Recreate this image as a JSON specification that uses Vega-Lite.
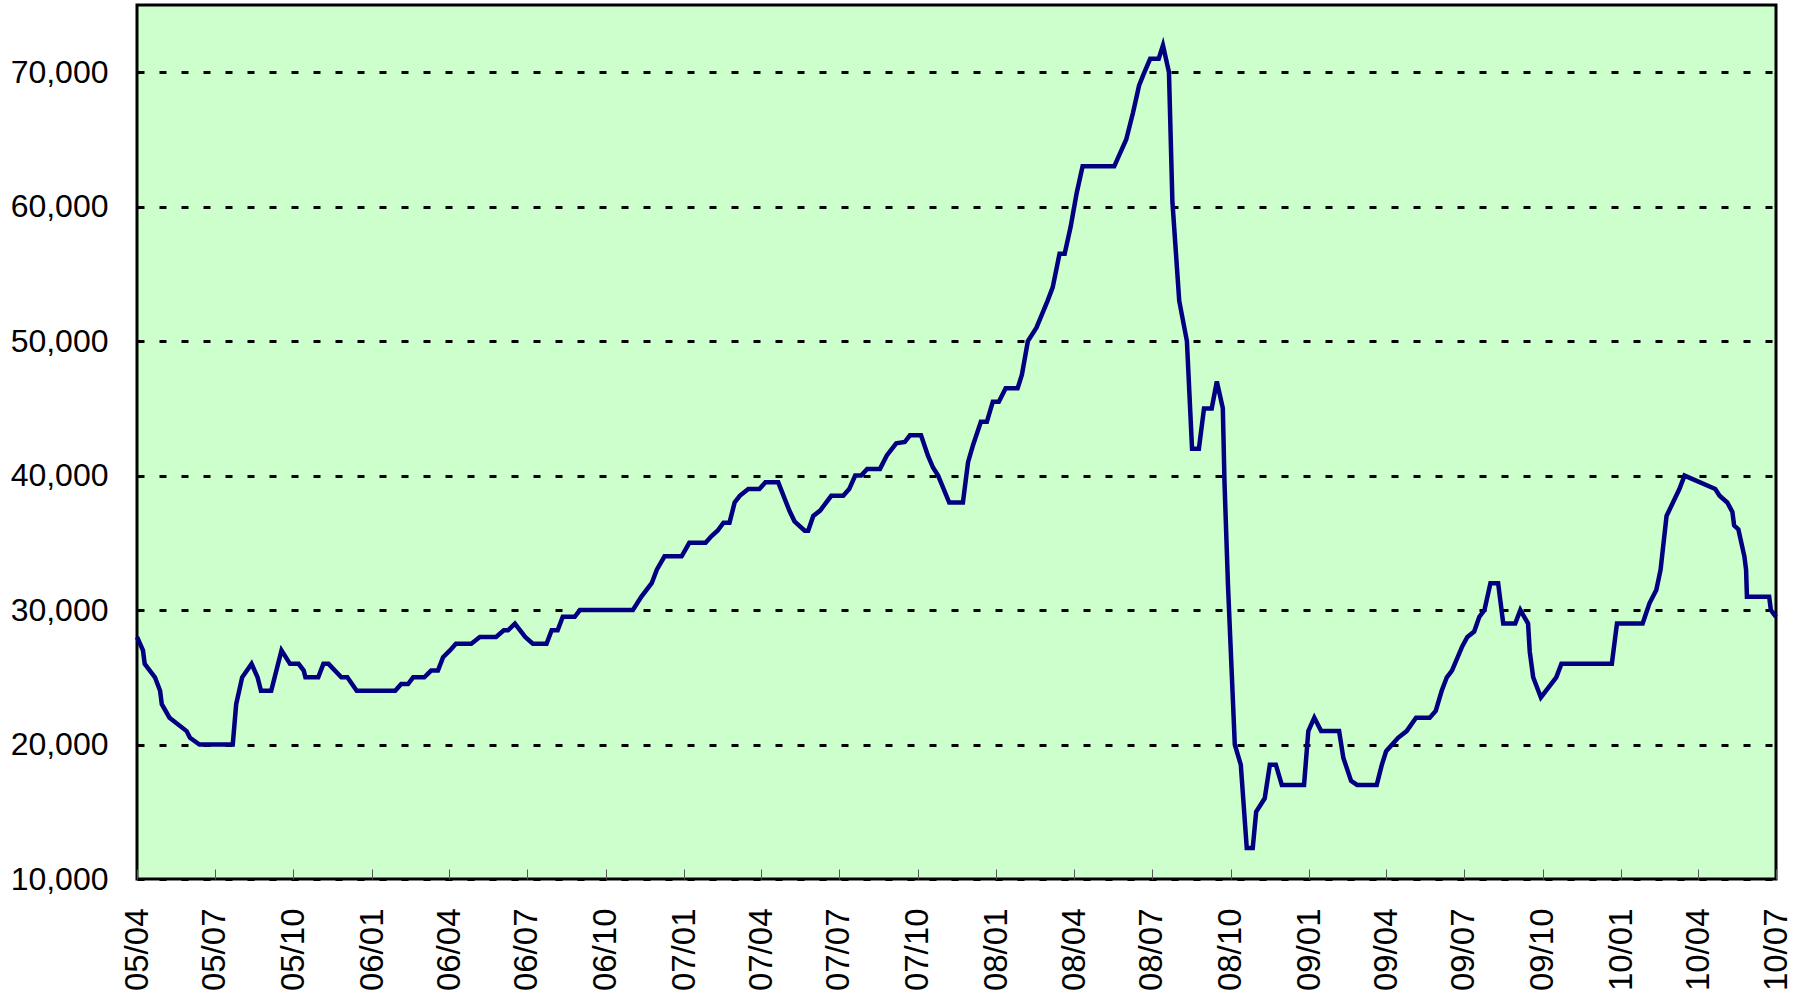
{
  "$schema": "https://vega.github.io/schema/vega-lite/v6.json",
  "autosize": {"type": "none"},
  "padding": {"left": 137, "top": 5, "right": 19, "bottom": 121},
  "width": 1639,
  "height": 874,
  "background": "white",
  "config": {
    "view": {"fill": "#CCFFCC", "stroke": "black", "strokeWidth": 3},
    "font": "Liberation Sans"
  },
  "data": {
    "values": [
      {"date": "2005-04-01", "price": 28000},
      {"date": "2005-04-08", "price": 27000},
      {"date": "2005-04-10", "price": 26000},
      {"date": "2005-04-22", "price": 25000},
      {"date": "2005-04-28", "price": 24000},
      {"date": "2005-04-30", "price": 23000},
      {"date": "2005-05-09", "price": 22000},
      {"date": "2005-05-29", "price": 21000},
      {"date": "2005-06-02", "price": 20500},
      {"date": "2005-06-13", "price": 20000},
      {"date": "2005-07-22", "price": 20000},
      {"date": "2005-07-26", "price": 23000},
      {"date": "2005-08-02", "price": 25000},
      {"date": "2005-08-13", "price": 26000},
      {"date": "2005-08-20", "price": 25000},
      {"date": "2005-08-24", "price": 24000},
      {"date": "2005-09-05", "price": 24000},
      {"date": "2005-09-17", "price": 27000},
      {"date": "2005-09-27", "price": 26000},
      {"date": "2005-10-07", "price": 26000},
      {"date": "2005-10-13", "price": 25500},
      {"date": "2005-10-15", "price": 25000},
      {"date": "2005-10-30", "price": 25000},
      {"date": "2005-11-05", "price": 26000},
      {"date": "2005-11-11", "price": 26000},
      {"date": "2005-11-26", "price": 25000},
      {"date": "2005-12-03", "price": 25000},
      {"date": "2005-12-14", "price": 24000},
      {"date": "2006-01-28", "price": 24000},
      {"date": "2006-02-04", "price": 24500},
      {"date": "2006-02-12", "price": 24500},
      {"date": "2006-02-18", "price": 25000},
      {"date": "2006-03-03", "price": 25000},
      {"date": "2006-03-11", "price": 25500},
      {"date": "2006-03-19", "price": 25500},
      {"date": "2006-03-25", "price": 26500},
      {"date": "2006-04-02", "price": 27000},
      {"date": "2006-04-09", "price": 27500},
      {"date": "2006-04-27", "price": 27500},
      {"date": "2006-05-07", "price": 28000},
      {"date": "2006-05-26", "price": 28000},
      {"date": "2006-06-04", "price": 28500},
      {"date": "2006-06-09", "price": 28500},
      {"date": "2006-06-17", "price": 29000},
      {"date": "2006-06-29", "price": 28000},
      {"date": "2006-07-08", "price": 27500},
      {"date": "2006-07-24", "price": 27500},
      {"date": "2006-07-30", "price": 28500},
      {"date": "2006-08-06", "price": 28500},
      {"date": "2006-08-12", "price": 29500},
      {"date": "2006-08-26", "price": 29500},
      {"date": "2006-09-01", "price": 30000},
      {"date": "2006-11-02", "price": 30000},
      {"date": "2006-11-12", "price": 31000},
      {"date": "2006-11-24", "price": 32000},
      {"date": "2006-11-30", "price": 33000},
      {"date": "2006-12-09", "price": 34000},
      {"date": "2006-12-29", "price": 34000},
      {"date": "2007-01-07", "price": 35000},
      {"date": "2007-01-26", "price": 35000},
      {"date": "2007-02-02", "price": 35500},
      {"date": "2007-02-09", "price": 35900},
      {"date": "2007-02-16", "price": 36500},
      {"date": "2007-02-23", "price": 36500},
      {"date": "2007-03-01", "price": 38000},
      {"date": "2007-03-07", "price": 38500},
      {"date": "2007-03-17", "price": 39000},
      {"date": "2007-03-30", "price": 39000},
      {"date": "2007-04-06", "price": 39500},
      {"date": "2007-04-21", "price": 39500},
      {"date": "2007-05-04", "price": 37400},
      {"date": "2007-05-10", "price": 36600},
      {"date": "2007-05-22", "price": 35900},
      {"date": "2007-05-26", "price": 35900},
      {"date": "2007-06-01", "price": 37000},
      {"date": "2007-06-09", "price": 37400},
      {"date": "2007-06-22", "price": 38500},
      {"date": "2007-07-06", "price": 38500},
      {"date": "2007-07-13", "price": 39000},
      {"date": "2007-07-20", "price": 40000},
      {"date": "2007-07-27", "price": 40000},
      {"date": "2007-08-03", "price": 40500},
      {"date": "2007-08-18", "price": 40500},
      {"date": "2007-08-26", "price": 41500},
      {"date": "2007-09-06", "price": 42400},
      {"date": "2007-09-16", "price": 42500},
      {"date": "2007-09-22", "price": 43000},
      {"date": "2007-10-05", "price": 43000},
      {"date": "2007-10-13", "price": 41500},
      {"date": "2007-10-19", "price": 40600},
      {"date": "2007-10-25", "price": 40000},
      {"date": "2007-11-07", "price": 38000},
      {"date": "2007-11-23", "price": 38000},
      {"date": "2007-11-29", "price": 41000},
      {"date": "2007-12-05", "price": 42300},
      {"date": "2007-12-14", "price": 44000},
      {"date": "2007-12-21", "price": 44000},
      {"date": "2007-12-28", "price": 45500},
      {"date": "2008-01-04", "price": 45500},
      {"date": "2008-01-12", "price": 46500},
      {"date": "2008-01-26", "price": 46500},
      {"date": "2008-01-31", "price": 47500},
      {"date": "2008-02-07", "price": 50000},
      {"date": "2008-02-17", "price": 51000},
      {"date": "2008-03-01", "price": 53000},
      {"date": "2008-03-07", "price": 54000},
      {"date": "2008-03-15", "price": 56500},
      {"date": "2008-03-21", "price": 56500},
      {"date": "2008-03-28", "price": 58500},
      {"date": "2008-04-04", "price": 61000},
      {"date": "2008-04-11", "price": 63000},
      {"date": "2008-05-18", "price": 63000},
      {"date": "2008-05-25", "price": 64000},
      {"date": "2008-06-01", "price": 65000},
      {"date": "2008-06-09", "price": 67000},
      {"date": "2008-06-16", "price": 69000},
      {"date": "2008-06-21", "price": 69800},
      {"date": "2008-06-29", "price": 71000},
      {"date": "2008-07-09", "price": 71000},
      {"date": "2008-07-14", "price": 72000},
      {"date": "2008-07-21", "price": 70000},
      {"date": "2008-07-25", "price": 60400},
      {"date": "2008-08-02", "price": 53000},
      {"date": "2008-08-11", "price": 50000},
      {"date": "2008-08-17", "price": 42000},
      {"date": "2008-08-25", "price": 42000},
      {"date": "2008-08-31", "price": 45000},
      {"date": "2008-09-09", "price": 45000},
      {"date": "2008-09-15", "price": 47000},
      {"date": "2008-09-22", "price": 45000},
      {"date": "2008-09-24", "price": 39400},
      {"date": "2008-09-28", "price": 31900},
      {"date": "2008-10-06", "price": 20000},
      {"date": "2008-10-13", "price": 18500},
      {"date": "2008-10-20", "price": 12300},
      {"date": "2008-10-27", "price": 12300},
      {"date": "2008-10-31", "price": 15000},
      {"date": "2008-11-10", "price": 16000},
      {"date": "2008-11-16", "price": 18500},
      {"date": "2008-11-23", "price": 18500},
      {"date": "2008-11-30", "price": 17000},
      {"date": "2008-12-26", "price": 17000},
      {"date": "2008-12-31", "price": 21000},
      {"date": "2009-01-07", "price": 22000},
      {"date": "2009-01-15", "price": 21000},
      {"date": "2009-02-05", "price": 21000},
      {"date": "2009-02-10", "price": 19000},
      {"date": "2009-02-19", "price": 17300},
      {"date": "2009-02-26", "price": 17000},
      {"date": "2009-03-21", "price": 17000},
      {"date": "2009-03-27", "price": 18500},
      {"date": "2009-04-01", "price": 19500},
      {"date": "2009-04-15", "price": 20500},
      {"date": "2009-04-25", "price": 21000},
      {"date": "2009-05-06", "price": 22000},
      {"date": "2009-05-22", "price": 22000},
      {"date": "2009-05-29", "price": 22500},
      {"date": "2009-06-05", "price": 24000},
      {"date": "2009-06-11", "price": 25000},
      {"date": "2009-06-17", "price": 25500},
      {"date": "2009-06-29", "price": 27300},
      {"date": "2009-07-05", "price": 28000},
      {"date": "2009-07-13", "price": 28400},
      {"date": "2009-07-19", "price": 29500},
      {"date": "2009-07-25", "price": 30000},
      {"date": "2009-08-01", "price": 32000},
      {"date": "2009-08-10", "price": 32000},
      {"date": "2009-08-16", "price": 29000},
      {"date": "2009-08-30", "price": 29000},
      {"date": "2009-09-05", "price": 30000},
      {"date": "2009-09-14", "price": 29000},
      {"date": "2009-09-16", "price": 26900},
      {"date": "2009-09-20", "price": 25000},
      {"date": "2009-09-29", "price": 23500},
      {"date": "2009-10-17", "price": 25000},
      {"date": "2009-10-23", "price": 26000},
      {"date": "2009-12-21", "price": 26000},
      {"date": "2009-12-27", "price": 29000},
      {"date": "2010-01-26", "price": 29000},
      {"date": "2010-02-03", "price": 30500},
      {"date": "2010-02-11", "price": 31500},
      {"date": "2010-02-16", "price": 33000},
      {"date": "2010-02-23", "price": 37000},
      {"date": "2010-03-10", "price": 39000},
      {"date": "2010-03-16", "price": 40000},
      {"date": "2010-04-21", "price": 39000},
      {"date": "2010-04-26", "price": 38500},
      {"date": "2010-05-05", "price": 38000},
      {"date": "2010-05-11", "price": 37300},
      {"date": "2010-05-13", "price": 36300},
      {"date": "2010-05-18", "price": 36000},
      {"date": "2010-05-25", "price": 34000},
      {"date": "2010-05-27", "price": 33000},
      {"date": "2010-05-28", "price": 31000},
      {"date": "2010-06-23", "price": 31000},
      {"date": "2010-06-25", "price": 30000},
      {"date": "2010-07-01", "price": 29500}
    ]
  },
  "mark": {"type": "line", "color": "#000080", "strokeWidth": 4.5, "strokeJoin": "miter", "clip": false},
  "encoding": {
    "x": {
      "field": "date",
      "type": "temporal",
      "scale": {
        "type": "utc",
        "domain": [
          {"year": 2005, "month": 4, "date": 1, "utc": true},
          {"year": 2010, "month": 7, "date": 1, "utc": true}
        ]
      },
      "axis": {
        "title": null,
        "format": "%y/%m",
        "labelAngle": -90,
        "labelFontSize": 33,
        "labelColor": "black",
        "offset": -10,
        "labelPadding": 29,
        "labelOverlap": false,
        "labelFlush": false,
        "domain": false,
        "grid": false,
        "ticks": true,
        "tickSize": 10,
        "tickColor": "#555555",
        "tickWidth": 1,
        "values": [
          {"year": 2005, "month": 4, "date": 1, "utc": true},
          {"year": 2005, "month": 7, "date": 1, "utc": true},
          {"year": 2005, "month": 10, "date": 1, "utc": true},
          {"year": 2006, "month": 1, "date": 1, "utc": true},
          {"year": 2006, "month": 4, "date": 1, "utc": true},
          {"year": 2006, "month": 7, "date": 1, "utc": true},
          {"year": 2006, "month": 10, "date": 1, "utc": true},
          {"year": 2007, "month": 1, "date": 1, "utc": true},
          {"year": 2007, "month": 4, "date": 1, "utc": true},
          {"year": 2007, "month": 7, "date": 1, "utc": true},
          {"year": 2007, "month": 10, "date": 1, "utc": true},
          {"year": 2008, "month": 1, "date": 1, "utc": true},
          {"year": 2008, "month": 4, "date": 1, "utc": true},
          {"year": 2008, "month": 7, "date": 1, "utc": true},
          {"year": 2008, "month": 10, "date": 1, "utc": true},
          {"year": 2009, "month": 1, "date": 1, "utc": true},
          {"year": 2009, "month": 4, "date": 1, "utc": true},
          {"year": 2009, "month": 7, "date": 1, "utc": true},
          {"year": 2009, "month": 10, "date": 1, "utc": true},
          {"year": 2010, "month": 1, "date": 1, "utc": true},
          {"year": 2010, "month": 4, "date": 1, "utc": true},
          {"year": 2010, "month": 7, "date": 1, "utc": true}
        ]
      }
    },
    "y": {
      "field": "price",
      "type": "quantitative",
      "scale": {"domain": [10000, 75000], "nice": false, "zero": false},
      "axis": {
        "title": null,
        "values": [10000, 20000, 30000, 40000, 50000, 60000, 70000],
        "format": ",d",
        "labelFontSize": 32,
        "labelColor": "black",
        "labelPadding": 29,
        "domain": false,
        "ticks": false,
        "grid": true,
        "gridColor": "black",
        "gridDash": [7, 15],
        "gridWidth": 3,
        "gridOpacity": 1
      }
    }
  }
}
